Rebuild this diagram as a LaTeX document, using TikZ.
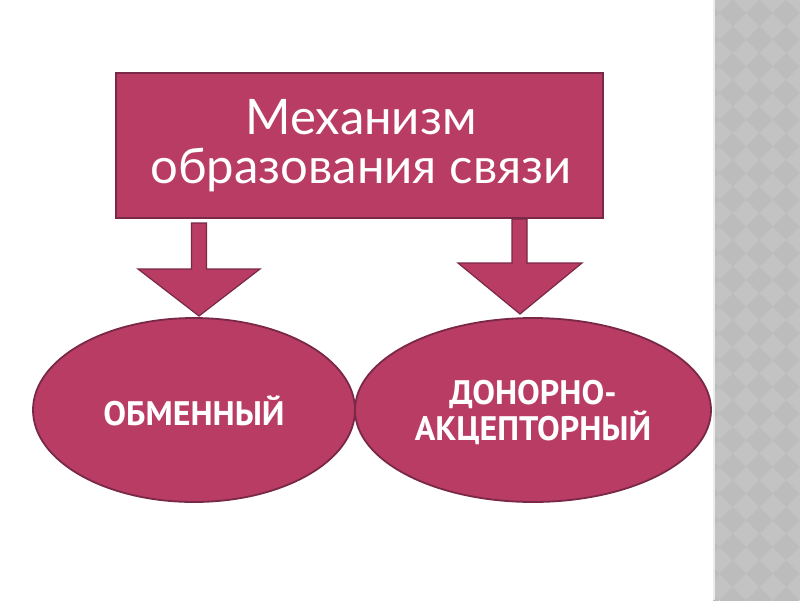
\documentclass[tikz,border=0pt]{standalone}
\usepackage{fontspec}
\setmainfont{Lato}
\newfontfamily\ovalfont{PT Sans}
\usetikzlibrary{shapes.geometric}
\definecolor{rose}{HTML}{B93C65}
\definecolor{roseline}{HTML}{7A2848}
\definecolor{stripA}{HTML}{C3C3C3}
\definecolor{stripB}{HTML}{BCBCBC}
\begin{document}
\begin{tikzpicture}[x=1pt,y=-1pt,
  shapefill/.style={fill=rose,draw=roseline,line width=1.8pt},
  titletext/.style={text=white,font=\fontsize{49}{49}\selectfont,align=center},
  ovaltext/.style={text=white,font=\ovalfont\bfseries\fontsize{34}{36}\selectfont,align=center}]
\useasboundingbox (0,0) rectangle (800,600);
\fill[white] (0,0) rectangle (800,600);
% right patterned strip
\begin{scope}
\clip (713,0) rectangle (800,600);
\fill[stripA] (713,0) rectangle (800,600);
\foreach \i in {0,...,4}{
  \foreach \j in {-1,...,23}{
    \pgfmathsetmacro{\cx}{706+26.7*\i}
    \pgfmathsetmacro{\cy}{13+26.7*\j}
    \fill[stripB] (\cx-13.35,\cy) -- (\cx,\cy-13.35) -- (\cx+13.35,\cy) -- (\cx,\cy+13.35) -- cycle;
  }
}
\fill[white!85!gray] (713,0) rectangle (715,600);
\end{scope}
% title box
\node[shapefill,rectangle,minimum width=487pt,minimum height=145pt,inner sep=0pt] (title) at (359.5,145.5) {};
\node[titletext] (titletxt) at (361,146) {Механизм\\образования связи};
% block arrows
\draw[shapefill,line width=1.2pt,line join=miter] (191.5,223) -- (206.5,223) -- (206.5,269) -- (260,269) -- (199,316) -- (138,269) -- (191.5,269) -- cycle;
\draw[shapefill,line width=1.2pt,line join=miter] (512,219) -- (527,219) -- (527,263) -- (582,263) -- (520,314) -- (458,263) -- (512,263) -- cycle;
% ellipses
\node[shapefill,ellipse,minimum width=322pt,minimum height=184pt,inner sep=0pt] (left) at (194,410) {};
\node[shapefill,ellipse,minimum width=356pt,minimum height=184pt,inner sep=0pt] (right) at (533,410) {};
\node[ovaltext] (lefttxt) at (194,411) {ОБМЕННЫЙ};
\node[ovaltext] (righttxt) at (533,412) {ДОНОРНО-\\АКЦЕПТОРНЫЙ};
\end{tikzpicture}
\end{document}
